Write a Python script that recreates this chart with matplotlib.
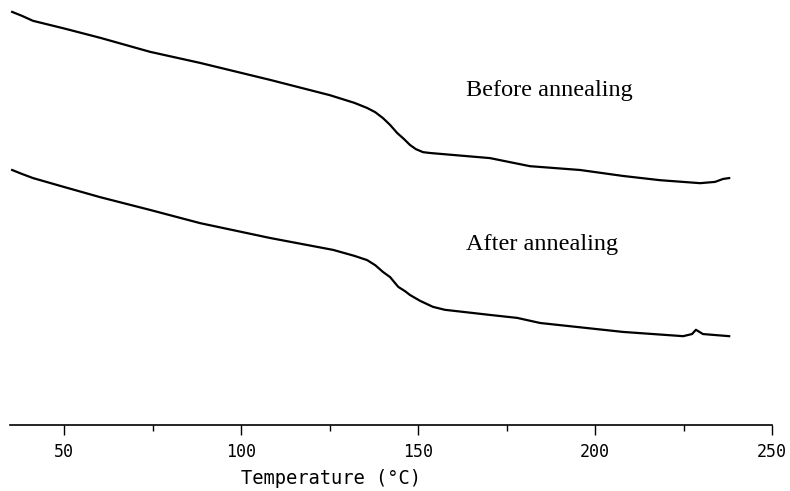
import matplotlib
matplotlib.use("Agg")
import matplotlib.pyplot as plt
from matplotlib.ticker import MultipleLocator


# DSC traces (temperature in degC, heat flow in arbitrary units)
before_temp = [35.3, 38.0, 41.2, 50.0, 60.2, 74.3, 88.4, 108.2, 125.1, 132.0,
               135.6, 137.9, 140.1, 142.1, 144.1, 146.0, 147.7, 149.4, 151.4,
               153.4, 156.2, 170.3, 181.6, 195.8, 207.9, 218.4, 229.7, 233.9,
               236.2, 237.9]
before_flow = [9.72, 9.63, 9.51, 9.33, 9.11, 8.78, 8.52, 8.12, 7.76, 7.58,
               7.46, 7.36, 7.22, 7.06, 6.87, 6.73, 6.59, 6.49, 6.42,
               6.40, 6.38, 6.28, 6.09, 6.00, 5.86, 5.76, 5.69, 5.72,
               5.79, 5.81]

after_temp = [35.3, 38.0, 41.2, 50.0, 60.2, 74.3, 88.4, 108.2, 126.0, 132.0,
              135.6, 137.9, 140.1, 142.1, 144.4, 146.3, 147.7, 150.6, 154.2,
              157.6, 170.3, 178.0, 184.5, 207.9, 224.9, 227.4, 228.5, 230.5,
              237.9]
after_flow = [6.00, 5.91, 5.81, 5.60, 5.36, 5.06, 4.75, 4.40, 4.12, 3.98,
              3.88, 3.76, 3.60, 3.48, 3.25, 3.15, 3.06, 2.92, 2.78,
              2.71, 2.59, 2.52, 2.40, 2.19, 2.09, 2.14, 2.24, 2.14,
              2.09]

labels = ["Before annealing", "After annealing"]
label_pos = [(163.5, 7.88), (163.5, 4.24)]


def main():
    fig = plt.figure(figsize=(7.9, 4.91), dpi=100)
    ax = fig.add_axes([10 / 790, 66 / 491, 762 / 790, 425 / 491])

    ax.plot(before_temp, before_flow, color="black", linewidth=1.6)
    ax.plot(after_temp, after_flow, color="black", linewidth=1.6)

    for text, (x, y) in zip(labels, label_pos):
        ax.text(x, y, text, family="Liberation Serif", fontsize=17.5,
                ha="left", va="center")

    ax.set_xlim(34.7, 250)
    ax.set_ylim(0, 10)
    for side in ("top", "right", "left"):
        ax.spines[side].set_visible(False)
    ax.spines["bottom"].set_linewidth(1.2)
    ax.set_yticks([])
    ax.xaxis.set_major_locator(MultipleLocator(50))
    ax.xaxis.set_minor_locator(MultipleLocator(25))
    ax.tick_params(axis="x", which="major", length=7, width=1, pad=6,
                   labelsize=12)
    ax.tick_params(axis="x", which="minor", length=4, width=1)
    for lbl in ax.get_xticklabels():
        lbl.set_family("DejaVu Sans Mono")
    xl = ax.set_xlabel("Temperature (°C)", family="DejaVu Sans Mono",
                       fontsize=13.5)
    xl.set_verticalalignment("center")
    ax.xaxis.set_label_coords(0.421, -0.125)

    fig.savefig("out.png", dpi=100)


if __name__ == "__main__":
    main()
